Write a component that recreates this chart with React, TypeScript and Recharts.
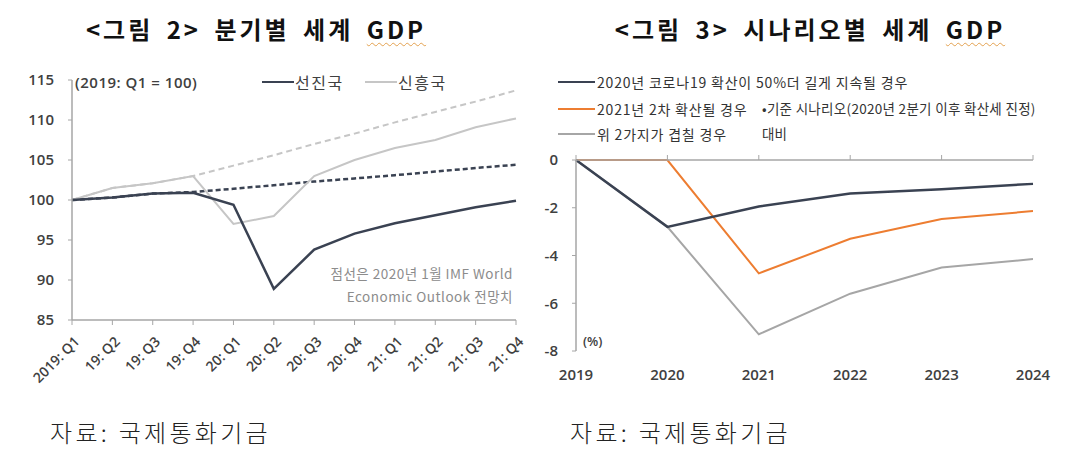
import React from 'react';
import { LineChart, Line, XAxis, YAxis } from 'recharts';

// <그림 2> quarterly world GDP (2019: Q1 = 100)
const quarters = ['2019: Q1', '19: Q2', '19: Q3', '19: Q4', '20: Q1', '20: Q2', '20: Q3', '20: Q4', '21: Q1', '21: Q2', '21: Q3', '21: Q4'];
const advanced = [100, 100.3, 100.8, 100.9, 99.4, 88.9, 93.8, 95.8, 97.1, 98.1, 99.1, 99.9];
const emerging = [100, 101.5, 102.1, 103.0, 97.0, 98.0, 103.0, 105.0, 106.5, 107.5, 109.1, 110.2];
const advancedOutlook = [100, 100.3, 100.8, 101.0, 101.4, 101.85, 102.3, 102.7, 103.1, 103.55, 104.0, 104.4];
const emergingOutlook = [100, 101.5, 102.1, 103.0, 104.3, 105.6, 107.0, 108.3, 109.7, 111.0, 112.3, 113.7];
const gdpTicks = [85, 90, 95, 100, 105, 110, 115];

// <그림 3> scenarios, % vs baseline
const years = ['2019', '2020', '2021', '2022', '2023', '2024'];
const longerSpread = [0, -2.8, -1.95, -1.4, -1.22, -1.0];
const secondWave = [0, 0, -4.75, -3.3, -2.47, -2.14];
const bothCases = [0, -2.8, -7.3, -5.6, -4.5, -4.15];
const scenarioTicks = [-8, -6, -4, -2, 0];

const quarterData = quarters.map((q, i) => ({
  q,
  advanced: advanced[i],
  emerging: emerging[i],
  advancedOutlook: advancedOutlook[i],
  emergingOutlook: emergingOutlook[i],
}));

const yearData = years.map((year, i) => ({
  year,
  longer: longerSpread[i],
  second: secondWave[i],
  both: bothCases[i],
}));

const DARK = '#3a4252';
const LIGHT = '#c6c6c6';
const ORANGE = '#ed7d31';
const GRAY = '#a6a6a6';
const AXIS = '#a6a6a6';
const TICK_FONT = '"Open Sans", "Noto Sans CJK KR", sans-serif';
const KR_FONT = '"Noto Sans CJK KR", "Noto Sans", sans-serif';

const QuarterTick = ({ x, y, payload }: any) => {
  const tx = x + 5;
  const ty = y + 14;
  return (
    <text x={tx} y={ty} transform={`rotate(-45 ${tx} ${ty})`} textAnchor="end" dy="0.35em"
      fontSize={14} fontWeight={600} fill="#404040" fontFamily={TICK_FONT}>
      {payload.value}
    </text>
  );
};

const YearTick = ({ x, y, payload }: any) => (
  <text x={x} y={y} textAnchor="middle" dy="0.35em" fontSize={15} fontWeight={600} fill="#404040" fontFamily={TICK_FONT}>
    {payload.value}
  </text>
);

// keeps the tick marks on the zero line but drops their labels
const NoLabel = () => <g />;

const label = (left: number, top: number, text: string, style: React.CSSProperties = {}) => (
  <div style={{ position: 'absolute', left, top, transform: 'translateY(-50%)', whiteSpace: 'nowrap', lineHeight: 1, ...style }}>
    {text}
  </div>
);

const swatch = (left: number, top: number, width: number, color: string, thick = 2.5) => (
  <div style={{ position: 'absolute', left, top: top - thick / 2, width, height: thick, background: color }} />
);

const titleStyle: React.CSSProperties = {
  position: 'absolute', top: 29, transform: 'translate(-50%, -50%)', whiteSpace: 'nowrap',
  fontFamily: KR_FONT, fontWeight: 700, fontSize: 24, letterSpacing: 3, wordSpacing: 5, color: '#111', lineHeight: 1,
};

const gdpUnderline: React.CSSProperties = { textDecoration: 'underline wavy #e3a14f', textDecorationThickness: 1, textUnderlineOffset: 3 };

const yTick = { fontSize: 15, fontWeight: 600, fill: '#404040', fontFamily: TICK_FONT };

const sourceStyle: React.CSSProperties = { fontFamily: KR_FONT, fontSize: 24, fontWeight: 300, letterSpacing: 3.3, color: '#222' };

const App: React.FC = () => {
  return (
    <div style={{ position: 'absolute', left: 0, top: 0, width: 1079, height: 472, background: '#fff', overflow: 'hidden' }}>
      <div style={{ ...titleStyle, left: 256 }}>&lt;그림 2&gt; 분기별 세계 <span style={gdpUnderline}>GDP</span></div>
      <div style={{ ...titleStyle, left: 810 }}>&lt;그림 3&gt; 시나리오별 세계 <span style={gdpUnderline}>GDP</span></div>

      <div style={{ position: 'absolute', left: 0, top: 0 }}>
        <LineChart width={540} height={400} data={quarterData} margin={{ top: 80, right: 24, left: 0, bottom: 20 }}>
          <XAxis dataKey="q" height={60} interval={0} tick={<QuarterTick />} tickSize={5} tickMargin={0}
            axisLine={{ stroke: AXIS, strokeWidth: 1.5 }} tickLine={{ stroke: AXIS }} />
          <YAxis width={72} domain={[85, 115]} ticks={gdpTicks} tickSize={4} tickMargin={14}
            tick={yTick} axisLine={{ stroke: AXIS, strokeWidth: 1.5 }} tickLine={{ stroke: AXIS }} />
          <Line dataKey="emergingOutlook" stroke={LIGHT} strokeWidth={2} strokeDasharray="6 4" dot={false} isAnimationActive={false} />
          <Line dataKey="advancedOutlook" stroke={DARK} strokeWidth={2.5} strokeDasharray="5 3" dot={false} isAnimationActive={false} />
          <Line dataKey="emerging" stroke={LIGHT} strokeWidth={2} dot={false} isAnimationActive={false} />
          <Line dataKey="advanced" stroke={DARK} strokeWidth={2.5} dot={false} isAnimationActive={false} />
        </LineChart>
      </div>

      <div style={{ position: 'absolute', left: 540, top: 0 }}>
        <LineChart width={539} height={400} data={yearData} margin={{ top: 155, right: 46, left: 0, bottom: 19 }}>
          <XAxis xAxisId="top" dataKey="year" orientation="top" height={5} tick={<NoLabel />} tickSize={5} tickMargin={0}
            interval={0} axisLine={{ stroke: AXIS, strokeWidth: 1.5 }} tickLine={{ stroke: AXIS }} />
          <XAxis xAxisId="bottom" dataKey="year" orientation="bottom" height={30} tick={<YearTick />}
            axisLine={false} tickLine={false} tickSize={0} tickMargin={24} interval={0} />
          <YAxis width={36} domain={[-8, 0]} ticks={scenarioTicks} tickSize={4} tickMargin={14}
            tick={yTick} axisLine={{ stroke: AXIS, strokeWidth: 1.5 }} tickLine={{ stroke: AXIS }} />
          <Line xAxisId="top" dataKey="both" stroke={GRAY} strokeWidth={2} dot={false} isAnimationActive={false} />
          <Line xAxisId="top" dataKey="second" stroke={ORANGE} strokeWidth={2} dot={false} isAnimationActive={false} />
          <Line xAxisId="top" dataKey="longer" stroke={DARK} strokeWidth={2.5} dot={false} isAnimationActive={false} />
        </LineChart>
      </div>

      {/* left chart legend and notes */}
      {label(75, 82, '(2019: Q1 = 100)', { fontFamily: TICK_FONT, fontSize: 15, fontWeight: 600, letterSpacing: 0.5, color: '#404040' })}
      {swatch(262, 82, 32, DARK)}
      {label(295, 82, '선진국', { fontFamily: KR_FONT, fontSize: 16, letterSpacing: 1.5, color: '#404040' })}
      {swatch(365, 82, 32, LIGHT, 2)}
      {label(398, 82, '신흥국', { fontFamily: KR_FONT, fontSize: 16, letterSpacing: 1.5, color: '#404040' })}
      <div style={{ position: 'absolute', right: 1079 - 513, top: 262, textAlign: 'right', fontFamily: KR_FONT, fontSize: 13.5, letterSpacing: 0.5, color: '#8c8c8c', lineHeight: '23px', whiteSpace: 'nowrap' }}>
        점선은 2020년 1월 IMF World<br />Economic Outlook 전망치
      </div>

      {/* right chart legend and notes */}
      {swatch(558, 82, 37, DARK)}
      {label(597, 82, '2020년 코로나19 확산이 50%더 길게 지속될 경우', { fontFamily: KR_FONT, fontSize: 14, letterSpacing: 0.8, color: '#333' })}
      {swatch(558, 109, 37, ORANGE)}
      {label(597, 109, '2021년 2차 확산될 경우', { fontFamily: KR_FONT, fontSize: 14, letterSpacing: 0.8, color: '#333' })}
      {swatch(558, 134, 37, GRAY, 2)}
      {label(597, 134, '위 2가지가 겹칠 경우', { fontFamily: KR_FONT, fontSize: 14, letterSpacing: 0.8, color: '#333' })}
      {label(762, 109, '•기준 시나리오(2020년 2분기 이후 확산세 진정)', { fontFamily: KR_FONT, fontSize: 13.5, letterSpacing: 0.3, color: '#333' })}
      {label(762, 134, '대비', { fontFamily: KR_FONT, fontSize: 13.5, color: '#333' })}
      {label(583, 341, '(%)', { fontFamily: TICK_FONT, fontSize: 13, fontWeight: 600, color: '#404040' })}

      {/* sources */}
      {label(50, 432, '자료: 국제통화기금', sourceStyle)}
      {label(570, 432, '자료: 국제통화기금', sourceStyle)}
    </div>
  );
};

export default App;
